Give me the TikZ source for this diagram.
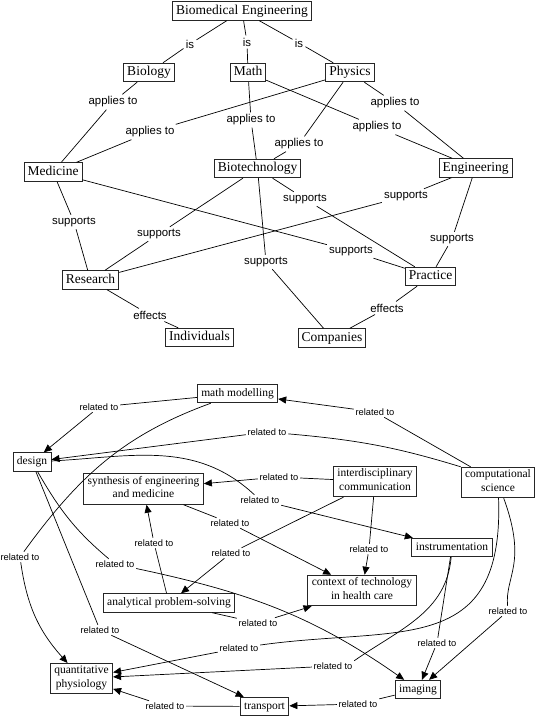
\documentclass[tikz,border=0pt]{standalone}
\usepackage{fontspec}
\setmainfont{Liberation Serif}
\setsansfont{Liberation Sans}
\usetikzlibrary{arrows.meta}

\begin{document}
\begin{tikzpicture}[x=1pt, y=1pt, line width=0.7pt,
    >={Triangle[length=8pt,width=7pt]},
    concept/.style={draw=black!85, line width=0.9pt, font=\fontsize{13.5}{15}\selectfont,
        text height=9.5pt, text depth=3pt, inner xsep=3.5pt, inner ysep=3pt},
    link/.style={font=\sffamily\fontsize{11.4}{13}\selectfont, inner sep=2pt},
    idea/.style={draw=black!85, line width=0.9pt, align=center, font=\fontsize{11.5}{13.5}\selectfont,
        inner xsep=4pt, inner ysep=2.5pt, execute at begin node=\strut, execute at end node=\strut},
    rel/.style={font=\sffamily\fontsize{9.3}{11}\selectfont, inner sep=1.5pt}]
    \useasboundingbox (0,0) rectangle (537,-717);

    % Top map - concepts
    \node[concept] (bme) at (242,-11) {Biomedical Engineering};
    \node[concept] (bio) at (149,-72.5) {Biology};
    \node[concept] (math) at (248,-72.5) {Math};
    \node[concept] (phy) at (350,-72.5) {Physics};
    \node[concept] (med) at (53,-172) {Medicine};
    \node[concept] (biot) at (257.5,-168.5) {Biotechnology};
    \node[concept] (eng) at (475.5,-168) {Engineering};
    \node[concept] (res) at (90.5,-280) {Research};
    \node[concept] (prac) at (430.5,-276.5) {Practice};
    \node[concept] (ind) at (199.5,-337.5) {Individuals};
    \node[concept] (comp) at (332,-338) {Companies};

    % Top map - linking phrases
    \node[link] (is1) at (190,-44) {is};
    \node[link] (is2) at (247,-42) {is};
    \node[link] (is3) at (299,-43) {is};
    \node[link] (ap1) at (113,-102) {applies to};
    \node[link] (ap2) at (150,-132) {applies to};
    \node[link] (ap3) at (251,-120) {applies to};
    \node[link] (ap4) at (377,-127) {applies to};
    \node[link] (ap5) at (299,-144) {applies to};
    \node[link] (ap6) at (395,-103) {applies to};
    \node[link] (sp1) at (74,-222) {supports};
    \node[link] (sp2) at (159,-234) {supports};
    \node[link] (sp3) at (351,-251) {supports};
    \node[link] (sp4) at (406,-196) {supports};
    \node[link] (sp5) at (305,-199) {supports};
    \node[link] (sp6) at (266,-262) {supports};
    \node[link] (sp7) at (452,-239) {supports};
    \node[link] (ef1) at (150,-315) {effects};
    \node[link] (ef2) at (387,-308) {effects};

    \draw (bme) -- (is1) -- (bio);
    \draw (bme) -- (is2) -- (math);
    \draw (bme) -- (is3) -- (phy);
    \draw (bio) -- (ap1) -- (med);
    \draw (phy) -- (ap2) -- (med);
    \draw (math) -- (ap3) -- (biot);
    \draw (math) -- (ap4) -- (eng);
    \draw (phy) -- (ap5) -- (biot);
    \draw (phy) -- (ap6) -- (eng);
    \draw (med) -- (sp1) -- (res);
    \draw (biot) -- (sp2) -- (res);
    \draw (med) -- (sp3) -- (prac);
    \draw (eng) -- (sp4) -- (res);
    \draw (biot) -- (sp5) -- (prac);
    \draw (biot) -- (sp6) -- (comp);
    \draw (eng) -- (sp7) -- (prac);
    \draw (res) -- (ef1) -- (ind);
    \draw (prac) -- (ef2) -- (comp);

    % Lower map - concepts
    \node[idea] (mathmod) at (237.5,-393.5) {math modelling};
    \node[idea] (design) at (32,-462) {design};
    \node[idea] (synth) at (143.5,-489) {synthesis of engineering\\and medicine};
    \node[idea] (interd) at (375,-481.5) {interdisciplinary\\communication};
    \node[idea] (compsci) at (498,-482.5) {computational\\science};
    \node[idea] (instr) at (452,-547.5) {instrumentation};
    \node[idea] (context) at (362,-590.5) {context of technology\\in health care};
    \node[idea] (analyt) at (169,-603) {analytical problem-solving};
    \node[idea] (quant) at (81.5,-678.5) {quantitative\\physiology};
    \node[idea] (imaging) at (418,-689.5) {imaging};
    \node[idea] (transport) at (264.5,-706.5) {transport};

    % Lower map - linking phrases
    \node[rel] (r1) at (375,-412) {related to};
    \node[rel] (r2) at (99,-407) {related to};
    \node[rel] (r3) at (20,-557) {related to};
    \node[rel] (r4) at (267,-432) {related to};
    \node[rel] (r5) at (260,-500) {related to};
    \node[rel] (r6) at (279,-477) {related to};
    \node[rel] (r7) at (230,-523) {related to};
    \node[rel] (r8) at (369,-549) {related to};
    \node[rel] (r9) at (231,-553) {related to};
    \node[rel] (r10) at (154,-543) {related to};
    \node[rel] (r11) at (115,-564) {related to};
    \node[rel] (r12) at (100,-630) {related to};
    \node[rel] (r13) at (258,-623) {related to};
    \node[rel] (r14) at (239,-648) {related to};
    \node[rel] (r15) at (333,-666) {related to};
    \node[rel] (r16) at (437,-643) {related to};
    \node[rel] (r17) at (508,-611) {related to};
    \node[rel] (r18) at (358,-704) {related to};
    \node[rel] (r19) at (165,-706) {related to};

    \draw[->] (compsci) -- (r1) -- (mathmod);
    \draw[->] (mathmod) -- (r2) -- (design);
    \draw (mathmod) to[out=200, in=54] (r3);
    \draw[->] (r3) to[out=-82, in=132] (quant);
    \draw (compsci.north west) to[out=163, in=-5] (r4);
    \draw[->] (r4) -- (design);
    \draw (design) to[out=3, in=137] (r5);
    \draw[->] (r5) -- (instr);
    \draw[->] (interd) -- (r6) -- (synth);
    \draw[->] (synth) -- (r7) -- (context);
    \draw[->] (interd) -- (r8) -- (context);
    \draw[->] (interd) -- (r9) -- (analyt);
    \draw[->] (analyt) -- (r10) -- (synth);
    \draw (design) to[out=-60, in=140] (r11);
    \draw[->] (r11) to[out=-12, in=145] (imaging);
    \draw[->] (design) -- (r12) -- (transport);
    \draw[->] (analyt) -- (r13) -- (context);
    \draw (compsci) to[out=-88, in=8, out distance=160pt, in distance=140pt] (r14);
    \draw[->] (r14) -- (quant);
    \draw (instr) to[out=-95, in=35] (r15.north east);
    \draw[->] (r15) -- (quant);
    \draw[->] (instr) -- (r16) -- (imaging);
    \draw (compsci) to[out=-70, in=95, out distance=70pt, in distance=30pt] (r17);
    \draw[->] (r17) -- (imaging);
    \draw[->] (imaging) -- (r18) -- (transport);
    \draw[->] (transport) -- (r19) -- (quant);
\end{tikzpicture}
\end{document}
